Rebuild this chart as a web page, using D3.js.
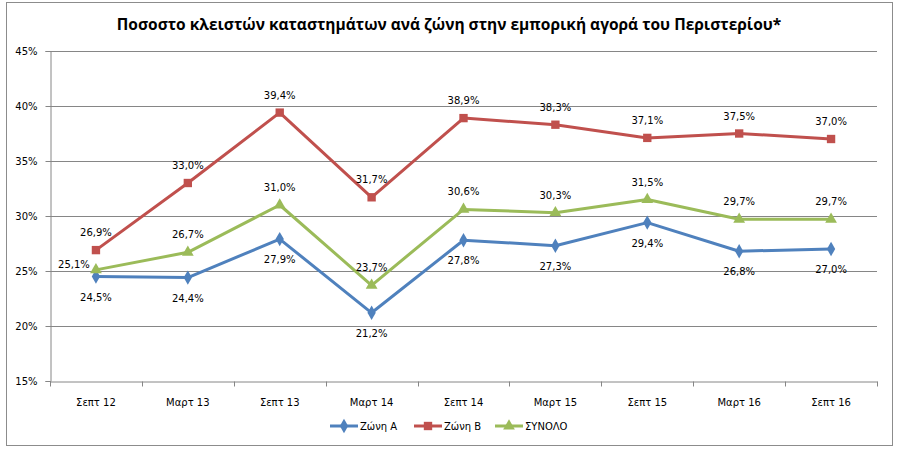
<!DOCTYPE html>
<html>
<head>
<meta charset="utf-8">
<script src="https://cdn.jsdelivr.net/npm/d3@7"></script>
<style>
  body { margin: 0; background: #fff; }
  text { font-family: "DejaVu Sans", Verdana, sans-serif; }
</style>
</head>
<body>
<div id="main"></div>
<script>
// chart data
const periods = ["Σεπτ 12", "Μαρτ 13", "Σεπτ 13", "Μαρτ 14", "Σεπτ 14", "Μαρτ 15", "Σεπτ 15", "Μαρτ 16", "Σεπτ 16"];
const zoneA = [24.5, 24.4, 27.9, 21.2, 27.8, 27.3, 29.4, 26.8, 27.0];
const zoneB = [26.9, 33.0, 39.4, 31.7, 38.9, 38.3, 37.1, 37.5, 37.0];
const total = [25.1, 26.7, 31.0, 23.7, 30.6, 30.3, 31.5, 29.7, 29.7];
const seriesNames = ["Ζώνη Α", "Ζώνη Β", "ΣΥΝΟΛΟ"];
const yTicks = [15, 20, 25, 30, 35, 40, 45];
const title = "Ποσοστο κλειστών καταστημάτων ανά ζώνη στην εμπορική αγορά του Περιστερίου*";

const width = 910, height = 457;
const margin = { top: 51, right: 33, bottom: 76, left: 50 };

const series = [
  { name: seriesNames[0], values: zoneA, color: "#4F81BD", symbol: d3.symbolDiamond, size: 60, label: "below" },
  { name: seriesNames[1], values: zoneB, color: "#C0504D", symbol: d3.symbolSquare, size: 70, label: "above" },
  { name: seriesNames[2], values: total, color: "#9BBB59", symbol: d3.symbolTriangle, size: 60, label: "above" }
];

const svg = d3.select("#main").append("svg")
  .attr("width", width)
  .attr("height", height);

// outer chart frame
svg.append("rect")
  .attr("x", 6.5).attr("y", 2.5)
  .attr("width", 886).attr("height", 443)
  .attr("fill", "#fff")
  .attr("stroke", "#8c8c8c")
  .attr("stroke-width", 1);

svg.append("text")
  .attr("x", 449).attr("y", 30)
  .attr("text-anchor", "middle")
  .attr("font-weight", "bold")
  .attr("font-size", 15.5)
  .attr("fill", "#000")
  .style("font-family", "'Open Sans', sans-serif")
  .text(title);

const x = d3.scaleBand()
  .domain(periods)
  .range([margin.left, width - margin.right]);

const y = d3.scaleLinear()
  .domain([15, 45])
  .range([height - margin.bottom, margin.top]);

// gridlines
svg.append("g")
  .selectAll("line")
  .data(yTicks.slice(1))
  .join("line")
  .attr("x1", margin.left)
  .attr("x2", width - margin.right)
  .attr("y1", d => Math.round(y(d)) + 0.5)
  .attr("y2", d => Math.round(y(d)) + 0.5)
  .attr("stroke", "#868686");

const yAxis = g => g
  .attr("transform", `translate(${margin.left + 0.5},0)`)
  .call(d3.axisLeft(y).tickValues(yTicks).tickFormat(d => d + "%").tickSize(5).tickPadding(8))
  .call(g => g.selectAll("line, path").attr("stroke", "#868686"))
  .call(g => g.selectAll(".tick").attr("transform", d => `translate(0,${Math.round(y(d)) + 0.5})`))
  .call(g => g.selectAll("text").attr("font-size", 10).attr("fill", "#000").style("font-family", "'DejaVu Sans', sans-serif"));

const xAxis = g => g
  .attr("transform", `translate(0,${Math.round(y(15)) + 0.5})`)
  .call(d3.axisBottom(x).tickSize(0).tickPadding(17).tickSizeOuter(0))
  .call(g => g.select(".domain").attr("stroke", "#868686"))
  .call(g => g.selectAll("text").attr("font-size", 10).attr("fill", "#000").style("font-family", "'DejaVu Sans', sans-serif"))
  .call(g => g.append("g")
    .selectAll("line")
    .data(periods.concat([null]))
    .join("line")
    .attr("x1", (d, i) => Math.round(x.range()[0] + i * x.step()) + 0.5)
    .attr("x2", (d, i) => Math.round(x.range()[0] + i * x.step()) + 0.5)
    .attr("y1", 0).attr("y2", 5)
    .attr("stroke", "#868686"));

svg.append("g").call(yAxis);
svg.append("g").call(xAxis);

const cx = d => x(d) + x.bandwidth() / 2;

const line = d3.line()
  .x((d, i) => cx(periods[i]))
  .y(d => y(d));

series.forEach(s => {
  const g = svg.append("g");

  g.append("path")
    .datum(s.values)
    .attr("fill", "none")
    .attr("stroke", s.color)
    .attr("stroke-width", 3)
    .attr("stroke-linejoin", "round")
    .attr("d", line);

  g.selectAll(".marker")
    .data(s.values)
    .join("path")
    .attr("class", "marker")
    .attr("transform", (d, i) => `translate(${cx(periods[i])},${y(d)})`)
    .attr("fill", s.color)
    .attr("d", d3.symbol().type(s.symbol).size(s.size));

  g.selectAll(".lbl")
    .data(s.values)
    .join("text")
    .attr("class", "lbl")
    .attr("x", (d, i) => {
      if (s.name === "ΣΥΝΟΛΟ" && i === 0) return cx(periods[i]) - 22;
      return cx(periods[i]);
    })
    .attr("y", (d, i) => {
      if (s.name === "ΣΥΝΟΛΟ" && i === 0) return y(d) - 2;
      return s.label === "below" ? y(d) + 24 : y(d) - 14;
    })
    .attr("text-anchor", "middle")
    .attr("font-size", 10)
    .attr("fill", "#000")
    .text(d => d3.format(".1f")(d).replace(".", ",") + "%");
});

// legend
const legendX = [330, 414, 495];
const legend = svg.append("g")
  .selectAll("g")
  .data(series)
  .join("g")
  .attr("transform", (d, i) => `translate(${legendX[i]},426)`);

legend.append("line")
  .attr("x1", 0).attr("x2", 28)
  .attr("stroke", d => d.color)
  .attr("stroke-width", 3);

legend.append("path")
  .attr("transform", "translate(14,0)")
  .attr("fill", d => d.color)
  .attr("d", d => d3.symbol().type(d.symbol).size(d.size)());

legend.append("text")
  .attr("x", 30).attr("y", 4)
  .attr("font-size", 10)
  .attr("fill", "#000")
  .text(d => d.name);
</script>
</body>
</html>
